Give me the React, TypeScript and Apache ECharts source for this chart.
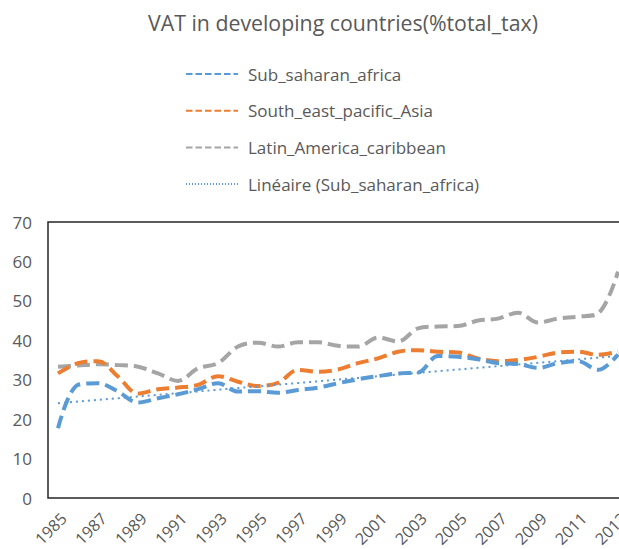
import React, { useEffect, useRef } from "react";
import * as echarts from "echarts";

const years: string[] = [
  "1985","1986","1987","1988","1989","1990","1991","1992","1993","1994",
  "1995","1996","1997","1998","1999","2000","2001","2002","2003","2004",
  "2005","2006","2007","2008","2009","2010","2011","2012","2013",
];

const subSaharanAfrica: number[] = [
  17.7, 28.7, 29.1, 27.0, 24.2, 25.3, 26.3, 27.6, 29.1, 27.0,
  27.1, 26.7, 27.4, 28.0, 29.1, 30.1, 30.9, 31.6, 31.8, 36.0,
  35.8, 35.2, 34.2, 34.0, 33.0, 34.2, 34.7, 32.5, 36.4,
];

const southEastPacificAsia: number[] = [
  31.6, 34.2, 34.7, 30.8, 26.5, 27.6, 28.0, 28.7, 30.9, 29.5,
  28.4, 29.2, 32.5, 32.0, 32.6, 34.2, 35.4, 37.1, 37.5, 37.1,
  36.9, 35.4, 34.7, 35.0, 35.8, 36.9, 37.1, 36.3, 37.1,
];

const latinAmericaCaribbean: number[] = [
  33.3, 33.6, 33.9, 33.7, 33.3, 31.6, 29.7, 32.9, 34.2, 38.4,
  39.4, 38.4, 39.5, 39.5, 38.6, 38.4, 40.7, 39.7, 43.0, 43.5,
  43.6, 45.0, 45.5, 47.0, 44.5, 45.5, 46.0, 46.8, 57.4,
];

const yTicks = { min: 0, max: 70, interval: 10 };

// Excel "Linéaire" trend line: least-squares fit of the Sub-saharan series
function linearTrend(values: number[]): number[] {
  const n = values.length;
  let sx = 0, sy = 0, sxx = 0, sxy = 0;
  values.forEach((v, i) => {
    sx += i; sy += v; sxx += i * i; sxy += i * v;
  });
  const slope = (n * sxy - sx * sy) / (n * sxx - sx * sx);
  const icpt = (sy - slope * sx) / n;
  return values.map((_, i) => +(icpt + slope * i).toFixed(3));
}

const FONT = "'Open Sans', sans-serif";
const TXT = "#595959";

export default function App() {
  const ref = useRef<HTMLDivElement>(null);
  useEffect(() => {
    if (!ref.current) return;
    const chart = echarts.init(ref.current, undefined, { renderer: "svg" });
    const dashed = [13, 6];
    chart.setOption({
      animation: false,
      backgroundColor: "#ffffff",
      textStyle: { fontFamily: FONT },
      title: {
        text: "VAT in developing countries(%total_tax)",
        left: 143,
        top: 7,
        textStyle: { fontFamily: FONT, fontSize: 21.3, fontWeight: "normal", color: TXT },
      },
      legend: {
        orient: "vertical",
        left: 185,
        top: 65,
        padding: 0,
        itemWidth: 52,
        itemHeight: 14,
        itemGap: 18.7,
        itemStyle: { opacity: 0 },
        lineStyle: { type: [6.5, 3] },
        textStyle: { fontFamily: FONT, fontSize: 17, color: TXT, lineHeight: 18, padding: [0, 0, 0, 5] },
        data: [
          "Sub_saharan_africa",
          "South_east_pacific_Asia",
          "Latin_America_caribbean",
          { name: "Linéaire (Sub_saharan_africa)", lineStyle: { type: [1, 2] } },
        ],
      },
      grid: {
        left: 48,
        right: 0,
        top: 222,
        bottom: 51,
        containLabel: false,
        outerBoundsMode: "none",
        show: true,
        borderColor: "#262626",
        borderWidth: 1.5,
        backgroundColor: "transparent",
      },
      xAxis: {
        type: "category",
        data: years,
        boundaryGap: true,
        axisLine: { show: false },
        axisTick: { show: false },
        axisLabel: {
          interval: 1,
          rotate: 45,
          margin: 12,
          verticalAlign: "top",
          fontFamily: FONT,
          fontSize: 16,
          color: TXT,
        },
      },
      yAxis: {
        type: "value",
        min: yTicks.min,
        max: yTicks.max,
        interval: yTicks.interval,
        splitLine: { show: false },
        axisLine: { show: false },
        axisTick: { show: false },
        axisLabel: { margin: 16, fontFamily: FONT, fontSize: 17, color: TXT },
      },
      series: [
        {
          name: "Sub_saharan_africa",
          type: "line",
          data: subSaharanAfrica,
          symbol: "none",
          smooth: 0.35,
          color: "#5b9bd5",
          lineStyle: { width: 4, type: dashed, color: "#5b9bd5" },
          z: 4,
        },
        {
          name: "South_east_pacific_Asia",
          type: "line",
          data: southEastPacificAsia,
          symbol: "none",
          smooth: 0.35,
          color: "#ed7d31",
          lineStyle: { width: 4, type: dashed, color: "#ed7d31" },
          z: 3,
        },
        {
          name: "Latin_America_caribbean",
          type: "line",
          data: latinAmericaCaribbean,
          symbol: "none",
          smooth: 0.35,
          color: "#a5a5a5",
          lineStyle: { width: 4, type: dashed, color: "#a5a5a5" },
          z: 2,
        },
        {
          name: "Linéaire (Sub_saharan_africa)",
          type: "line",
          data: linearTrend(subSaharanAfrica),
          symbol: "none",
          color: "#5b9bd5",
          lineStyle: { width: 2, type: [2, 4], color: "#5b9bd5" },
          z: 5,
        },
      ],
    });
    return () => chart.dispose();
  }, []);
  return (
    <div
      style={{
        position: "fixed",
        left: 0,
        top: 0,
        width: 619,
        height: 549,
        overflow: "hidden",
        background: "#fff",
      }}
    >
      <div ref={ref} style={{ width: 628, height: 549 }} />
    </div>
  );
}
